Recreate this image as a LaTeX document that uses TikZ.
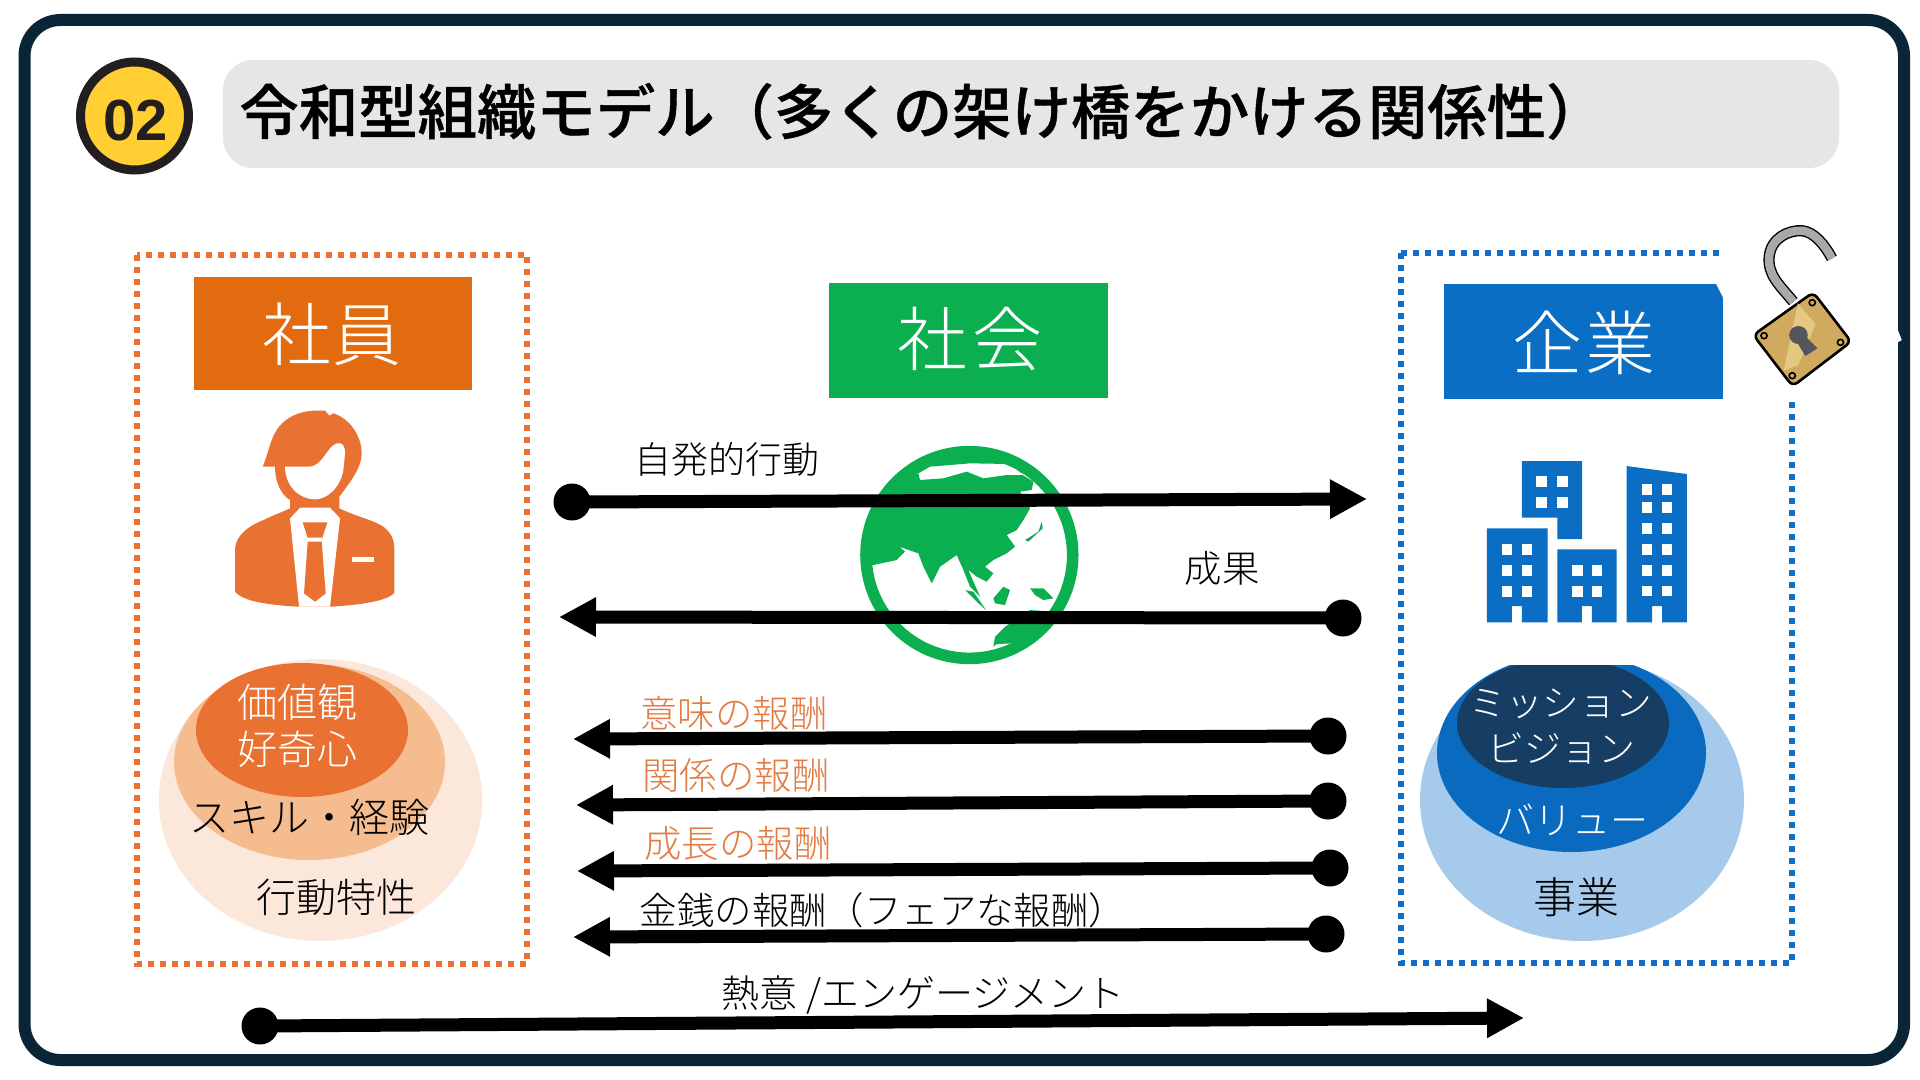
\documentclass[tikz,border=0pt]{standalone}
\usepackage{fontspec}
\usetikzlibrary{arrows.meta}
\newfontfamily\jp{Noto Sans CJK JP Medium}[FakeBold=0.7]
\newfontfamily\jpl{Noto Sans CJK JP Light}
\setsansfont{Liberation Sans}
\definecolor{frameC}{HTML}{0A2536}
\definecolor{orangeC}{HTML}{E97132}
\definecolor{orangeText}{HTML}{E27C44}
\definecolor{orangeBox}{HTML}{E26B0F}
\definecolor{orangeMid}{HTML}{F5BC90}
\definecolor{orangePale}{HTML}{FBE8DA}
\definecolor{greenC}{HTML}{0BAF4F}
\definecolor{blueC}{HTML}{0F6FC6}
\definecolor{blueBox}{HTML}{0B6EC5}
\definecolor{bluePale}{HTML}{A6CAEC}
\definecolor{blueMid}{HTML}{0A6ABF}
\definecolor{blueDark}{HTML}{163E64}
\definecolor{badgeFill}{HTML}{FFCF33}
\definecolor{badgeInk}{HTML}{231F20}
\definecolor{titleBar}{HTML}{E6E6E6}
\definecolor{lockGold}{HTML}{CFAA5F}
\definecolor{lockLight}{HTML}{E4C882}
\definecolor{lockKey}{HTML}{54565C}
\definecolor{lockGrey}{HTML}{A8A9AD}
\tikzset{
  frameline/.style={draw=frameC,line width=6pt,rounded corners=18pt},
  dotbox/.style={line width=3pt,dash pattern=on 3pt off 3pt},
  bar/.style={line width=6.5pt,black,-{Triangle[length=18.5pt,width=18.5pt]}},
  dotn/.style={circle,fill=black,inner sep=0pt,minimum size=18.5pt},
  lab/.style={anchor=base,inner sep=0pt,outer sep=0pt},
  shack/.style={line cap=butt,fill=none},
}
% name, x, y of the text centre, size in pt, colour, text
\newcommand\lbl[6]{\node[lab,text=#5,font=\jpl\fontsize{#4}{#4}\selectfont] (#1) at ({#2},{#3+0.76*#4}) {#6};}
\begin{document}
\begin{tikzpicture}[x=0.5pt,y=-0.5pt]
\useasboundingbox (0,0) rectangle (1920,1080);
\fill[white] (0,0) rectangle (1920,1080);
% frame
\draw[frameline] (24.5,20) rectangle (1904,1060);
% badge + title
\node[circle,fill=badgeFill,draw=badgeInk,line width=4.5pt,minimum size=54pt,inner sep=0pt] (badge) at (134.5,116) {};
\node[lab,text=badgeInk,font=\sffamily\bfseries\fontsize{29}{29}\selectfont] (num) at (135.5,141) {02};
\fill[titleBar,rounded corners=15pt] (223,60) rectangle (1839,168);
\node[anchor=base west,inner sep=0pt,font=\jp\fontsize{29.7}{30}\selectfont] (title) at (239,134) {令和型組織モデル（多くの架け橋をかける関係性）};
% dotted boxes
\draw[dotbox,orangeC] (137,254.7) rectangle (527,964);
\draw[dotbox,blueC] (1401,253) rectangle (1792,963);
% header boxes
\fill[orangeBox] (194,277) rectangle (472,390);
\fill[greenC] (829,283) rectangle (1108,398);
\fill[blueBox] (1444,284) rectangle (1723,399);
\lbl{hA}{332}{334}{34.5}{white}{社\hspace{1pt}員}
\lbl{hB}{970}{339}{35}{white}{社\hspace{2.5pt}会}
\lbl{hC}{1584}{342.5}{35}{white}{企\hspace{1.5pt}業}
% person icon
\begin{scope}[shift={(130,240)},x=0.1667pt,y=-0.1667pt]
\fill[orangeC] (398,680) .. controls (415,640) and (420,600) .. (440,570)
  .. controls (470,525) and (520,508) .. (585,512) -- (598,527) -- (610,520)
  .. controls (660,535) and (695,590) .. (695,640)
  .. controls (695,680) and (665,720) .. (628,770) -- (628,805)
  .. controls (680,830) and (730,840) .. (760,860)
  .. controls (785,880) and (793,900) .. (793,930) -- (793,1058)
  .. controls (770,1085) and (680,1095) .. (600,1100) -- (507,1100)
  .. controls (420,1095) and (340,1085) .. (315,1055) -- (315,930)
  .. controls (315,890) and (350,860) .. (400,840)
  .. controls (430,825) and (460,815) .. (480,805) -- (480,780)
  .. controls (455,765) and (435,730) .. (435,680) -- cycle;
\fill[white] (465,680) -- (540,680) .. controls (580,675) and (590,620) .. (620,610)
  .. controls (635,606) and (645,615) .. (645,640) -- (640,690)
  .. controls (630,745) and (590,778) .. (555,778)
  .. controls (510,778) and (465,740) .. (465,680) -- cycle;
\fill[white] (510,803) -- (600,803) -- (630,835) -- (600,1100) -- (507,1100) -- (480,835) -- cycle;
\fill[orangeC] (518,847) -- (592,847) -- (577,893) -- (533,893) -- cycle;
\fill[orangeC] (533,905) -- (575,905) -- (587,1060) -- (555,1085) -- (522,1060) -- cycle;
\fill[white] (666,950) rectangle (733,966);
\end{scope}
% globe
\begin{scope}[shift={(830,420)},x=0.1667pt,y=-0.1667pt]
\begin{scope}
\clip (418,405) circle [radius=315];
\fill[greenC] (60,440) -- (130,435) -- (200,420) -- (225,395) -- (208,380) -- (265,400) -- (280,440) -- (305,490) -- (330,440) -- (380,405) -- (400,450) -- (420,500) -- (450,530) -- (415,450) -- (440,470) -- (470,485) -- (490,460) -- (465,440) -- (490,420) -- (530,400) -- (555,380) -- (530,345) -- (560,330) -- (580,300) -- (600,265) -- (570,215) -- (605,210) -- (610,185) -- (578,165) -- (530,165) -- (460,175) -- (410,155) -- (340,175) -- (270,180) -- (265,160) -- (200,170) -- (60,250) -- cycle;
\fill[greenC] (265,160) -- (300,140) -- (420,130) -- (540,132) -- (575,160) -- (640,175) -- (640,50) -- (200,50) -- (200,170) -- cycle;
\fill[greenC] (405,510) -- (430,515) -- (468,570) -- (440,545) -- cycle;
\fill[greenC] (490,535) -- (520,500) -- (540,510) -- (525,555) -- (495,550) -- cycle;
\fill[greenC] (600,505) -- (640,505) -- (670,535) -- (640,540) -- (615,525) -- cycle;
\fill[greenC] (585,360) -- (625,335) -- (635,305) -- (638,325) -- (595,365) -- cycle;
\fill[greenC] (490,680) -- (495,650) -- (525,620) -- (600,570) -- (740,580) -- (740,620) -- (620,650) -- (545,670) -- (500,672) -- cycle;
\end{scope}
\draw[greenC,line width=5.8pt] (418,405) circle [radius=310];
\end{scope}
% buildings
\begin{scope}[shift={(1380,200)},x=0.1722pt,y=-0.1667pt]
\fill[blueBox] (412,783) -- (587,783) -- (587,1017) -- (515,1017) -- (515,953) -- (412,953) -- cycle;
\fill[blueBox] (310,985) -- (487,985) -- (487,1267) -- (412,1267) -- (412,1218) -- (383,1218) -- (383,1267) -- (310,1267) -- cycle;
\fill[blueBox] (515,1048) -- (687,1048) -- (687,1267) -- (615,1267) -- (615,1218) -- (586,1218) -- (586,1267) -- (515,1267) -- cycle;
\fill[blueBox] (716,798) -- (891,822) -- (891,1267) -- (819,1267) -- (819,1218) -- (790,1218) -- (790,1267) -- (716,1267) -- cycle;
\foreach \xx in {453,515} \foreach \yy in {828,892} \fill[white] (\xx,\yy) rectangle +(31,32);
\foreach \xx in {354,412} \foreach \yy in {1032,1095,1157} \fill[white] (\xx,\yy) rectangle +(29,33);
\foreach \xx in {558,615} \foreach \yy in {1095,1157} \fill[white] (\xx,\yy) rectangle +(30,33);
\foreach \xx in {761,819} \foreach \yy in {853,907,970,1032,1095,1157} \fill[white] (\xx,\yy) rectangle +(29,32);
% lock
\fill[white] (1005,140) -- (1130,60) -- (1290,30) -- (1430,150) -- (1470,300) -- (1515,420) -- (1380,500) -- (1210,590) -- (1170,590) -- (1040,380) -- (995,290) -- (975,250) -- cycle;
\draw[shack,black,line width=5.6pt] (1200,305) .. controls (1160,255) and (1125,225) .. (1130,170) .. controls (1135,115) and (1185,90) .. (1225,92) .. controls (1260,96) and (1290,132) .. (1312,175);
\draw[shack,lockGrey,line width=4.2pt] (1200,305) .. controls (1160,255) and (1125,225) .. (1130,170) .. controls (1135,115) and (1185,90) .. (1225,92) .. controls (1260,96) and (1290,132) .. (1312,175);
\draw[black,line width=1.3pt,fill=lockGold,rounded corners=3pt] (1258,277) -- (1368,425) -- (1198,559) -- (1084,405) -- cycle;
\fill[lockLight] (1213,310) -- (1265,372) -- (1215,495) -- (1172,512) -- cycle;
\fill[lockKey] (1215,405) circle [radius=27];
\fill[lockKey] (1210,425) -- (1232,405) -- (1270,445) -- (1235,468) -- cycle;
\foreach \xx/\yy in {1255/308,1115/407,1337/427,1197/527}
  \draw[black,line width=0.8pt,fill=lockGold] (\xx,\yy) circle [radius=9];
\end{scope}
% left ellipses
\fill[orangePale] (320.5,800) ellipse [x radius=161.7,y radius=141];
\fill[orangeMid] (309.5,762) ellipse [x radius=135.5,y radius=98];
\fill[orangeC] (302,730) ellipse [x radius=106,y radius=67];
% right ellipses
\begin{scope}
\clip (1400,665) rectangle (1780,960);
\fill[bluePale] (1582,800) ellipse [x radius=162,y radius=141];
\fill[blueMid] (1571.5,753) ellipse [x radius=134.5,y radius=99];
\fill[blueDark] (1563,723) ellipse [x radius=106,y radius=65];
\end{scope}
% ellipse labels
\lbl{e1}{297}{702}{20}{white}{価値観}
\lbl{e2}{297}{749}{20}{white}{好奇心}
\lbl{e3}{309.5}{817}{20}{black}{スキル・経験}
\lbl{e4}{336}{897}{20}{black}{行動特性}
\lbl{f1}{1561}{703}{18.3}{white}{ミッション}
\lbl{f2}{1561}{748}{18.5}{white}{ビジョン}
\lbl{f3}{1572}{820}{19}{white}{バリュー}
\lbl{f4}{1576}{897}{21.5}{black}{事業}
% connectors
\node[dotn] (d1) at (572,502) {};
\coordinate (t1) at (1367,499);
\draw[bar] (d1.center) -- (t1);
\node[dotn] (d2) at (1343,618) {};
\coordinate (t2) at (559,617);
\draw[bar] (d2.center) -- (t2);
\node[dotn] (d3) at (1328,736) {};
\coordinate (t3) at (573,739);
\draw[bar] (d3.center) -- (t3);
\node[dotn] (d4) at (1328,801) {};
\coordinate (t4) at (576,805);
\draw[bar] (d4.center) -- (t4);
\node[dotn] (d5) at (1330,868) {};
\coordinate (t5) at (577,871);
\draw[bar] (d5.center) -- (t5);
\node[dotn] (d6) at (1326,934) {};
\coordinate (t6) at (573,937);
\draw[bar] (d6.center) -- (t6);
\node[dotn] (d7) at (260,1026) {};
\coordinate (t7) at (1524,1018);
\draw[bar] (d7.center) -- (t7);
% connector labels
\lbl{a1}{727}{459}{18.5}{black}{自発的行動}
\lbl{a2}{1222}{568}{18.7}{black}{成果}
\lbl{a3}{734}{713}{18.7}{orangeText}{意味の報酬}
\lbl{a4}{736}{775}{18.7}{orangeText}{関係の報酬}
\lbl{a5}{738}{843}{18.7}{orangeText}{成長の報酬}
\lbl{a6}{883}{910}{18.7}{black}{金銭の報酬（フェアな報酬）}
\lbl{a7}{923}{993}{19}{black}{熱意 /エンゲージメント}
\end{tikzpicture}
\end{document}
